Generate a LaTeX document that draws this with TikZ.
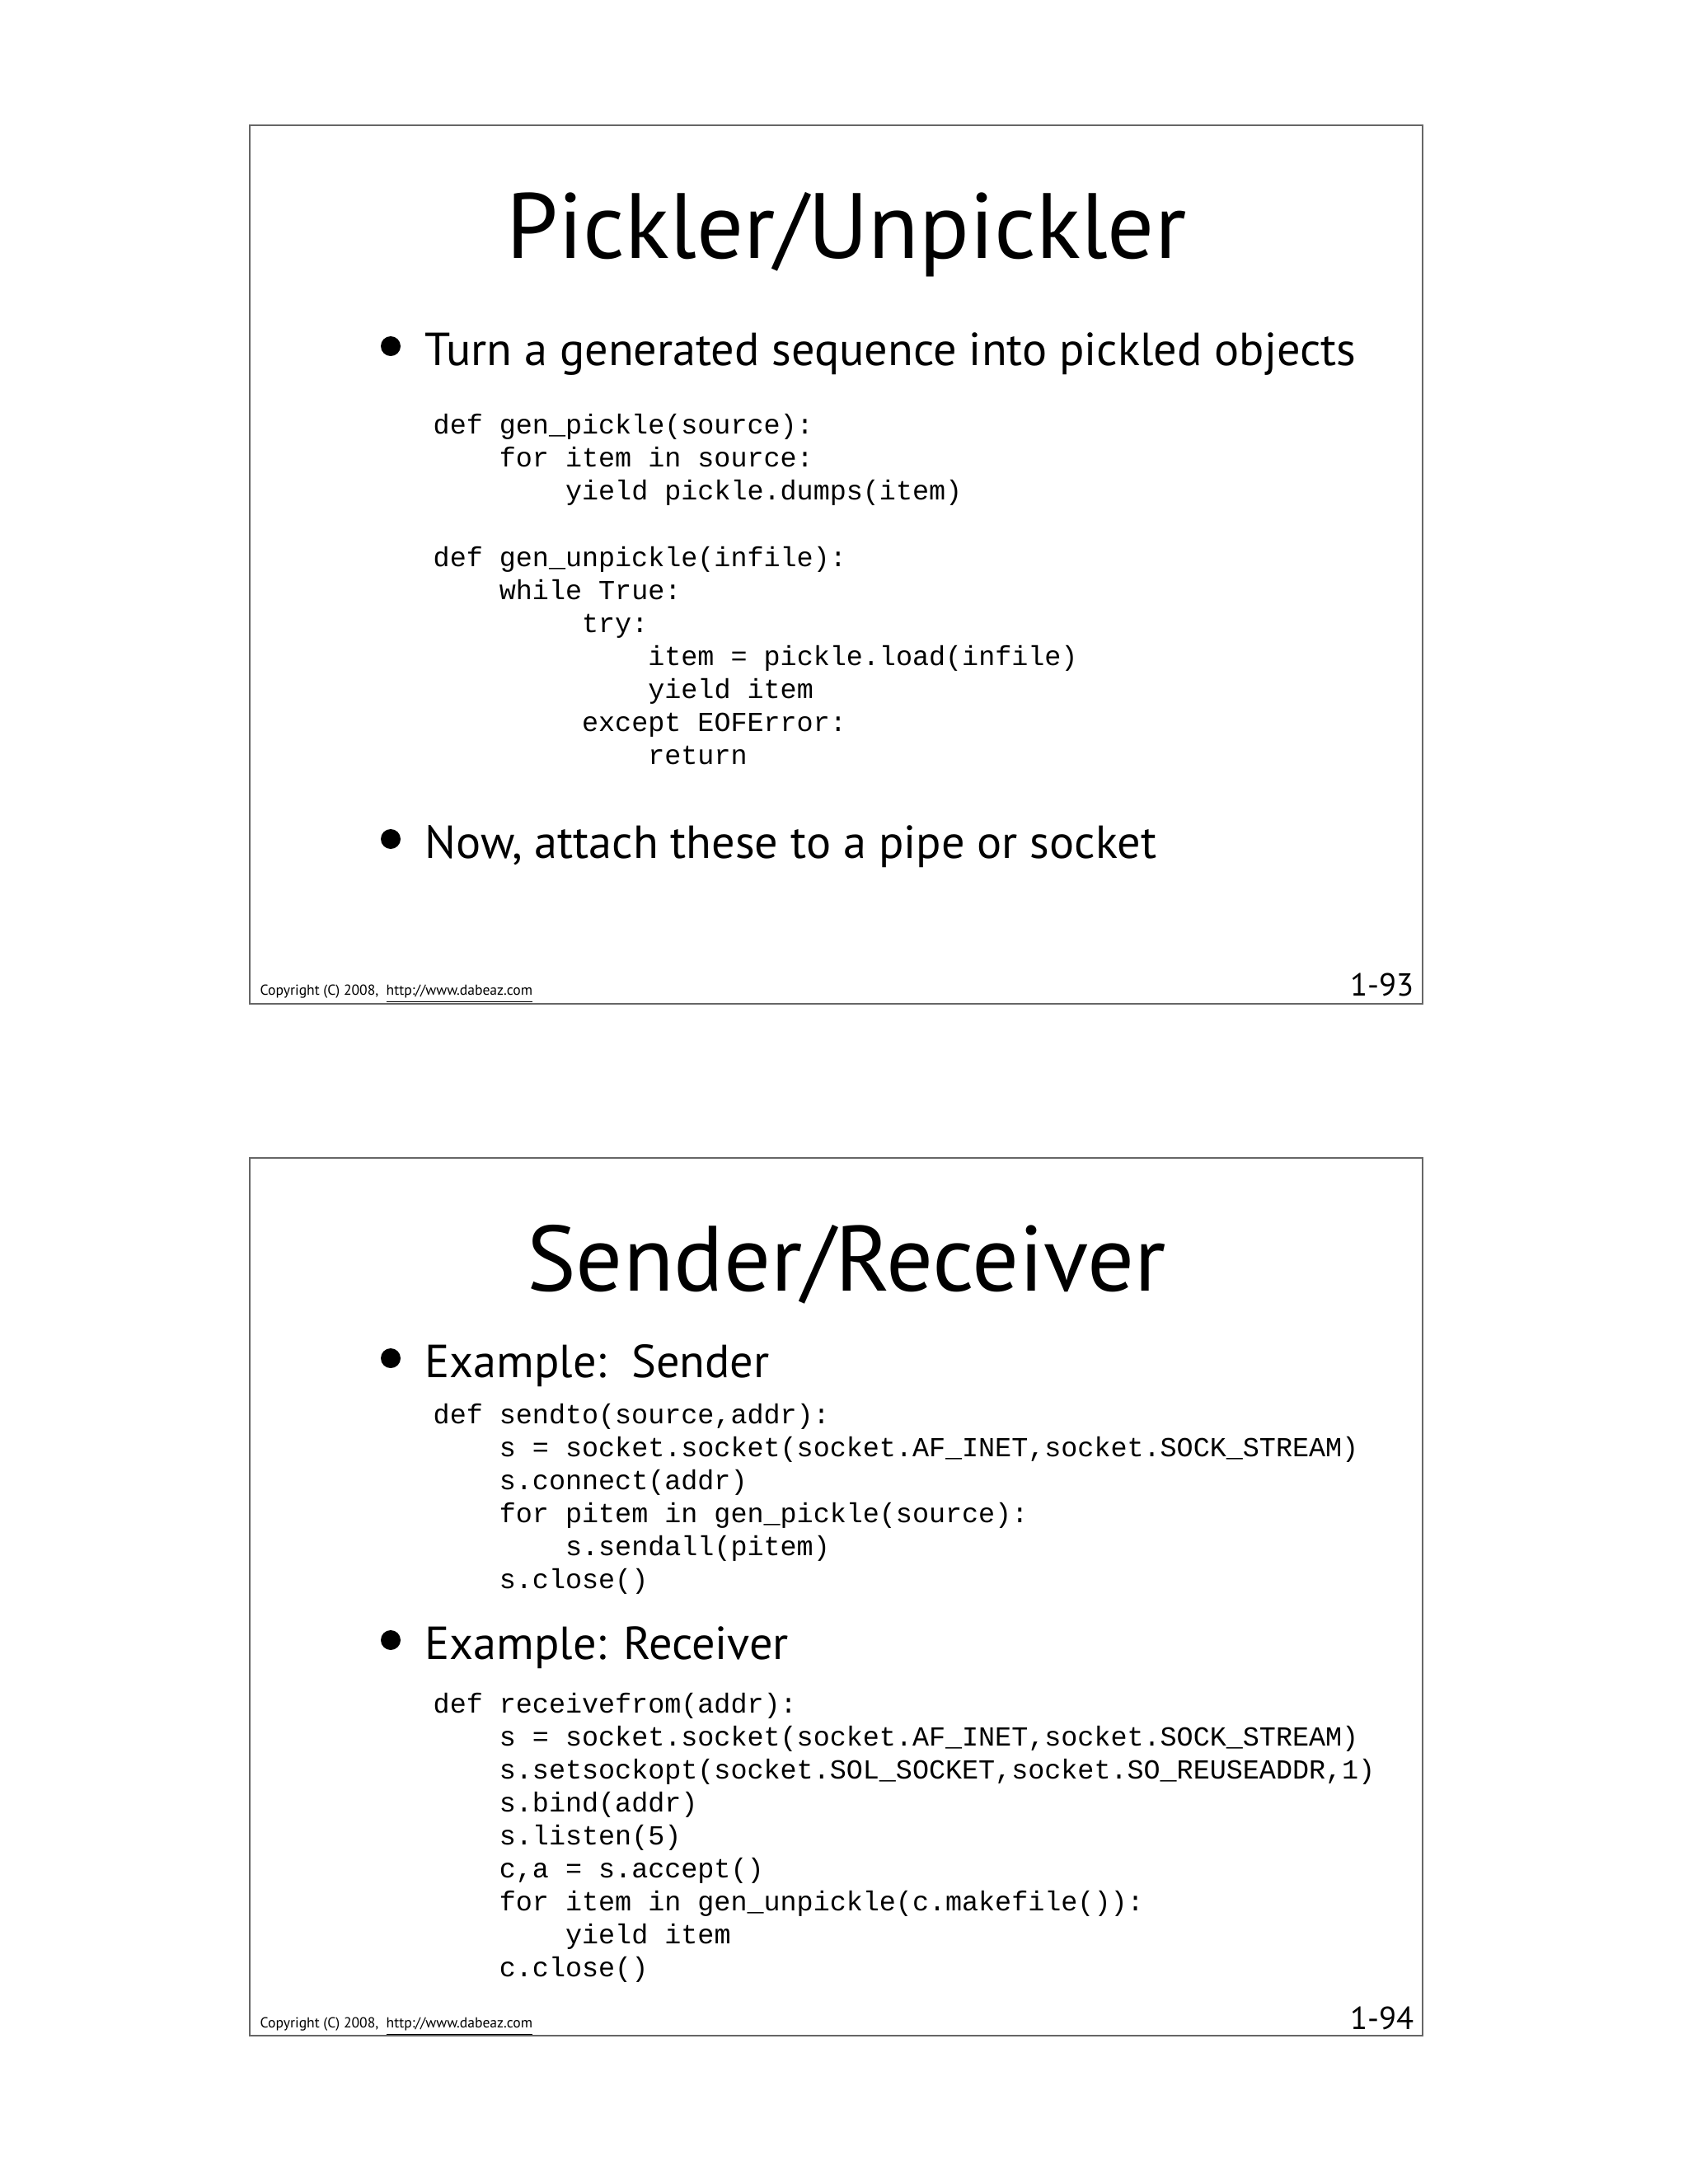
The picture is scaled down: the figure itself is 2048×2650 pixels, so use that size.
\documentclass[tikz,border=0pt]{standalone}
\usepackage{fontspec}
\setmainfont{PT Sans}
\setmonofont{Liberation Mono}
\begin{document}
\begin{tikzpicture}[x=0.01cm,y=-0.01cm,
  title/.style={anchor=base,font=\fontsize{32}{38}\selectfont,inner sep=0},
  bul/.style={anchor=base west,font=\fontsize{16}{19}\selectfont,inner sep=0},
  code/.style={anchor=base west,font=\ttfamily\fontsize{9.5}{11}\selectfont,inner sep=0},
  foot/.style={anchor=base west,font=\fontsize{5}{6}\selectfont,inner sep=0},
  num/.style={anchor=base east,font=\fontsize{11}{13}\selectfont,inner sep=0},
  frame/.style={draw=black!60,line width=0.6pt}]
\useasboundingbox (0,0) rectangle (2048,2650);
\newcommand{\cl}[4]{\node[code] (#1) at ({525+#3*20.05},#2) {#4};}
% slide 1
\draw[frame] (303,152) rectangle (1726,1218);
\node[title] (t1) at (1027,313) {Pickler/Unpickler};
\fill (474,420) circle (12);
\node[bul] (b1) at (515,443) {Turn a generated sequence into pickled objects};
\cl{a1}{526}{0}{def gen\_pickle(source):}
\cl{a2}{566}{4}{for item in source:}
\cl{a3}{606}{8}{yield pickle.dumps(item)}
\cl{a4}{687}{0}{def gen\_unpickle(infile):}
\cl{a5}{727}{4}{while True:}
\cl{a6}{767}{9}{try:}
\cl{a7}{807}{13}{item = pickle.load(infile)}
\cl{a8}{847}{13}{yield item}
\cl{a9}{887}{9}{except EOFError:}
\cl{a10}{927}{13}{return}
\fill (474,1018) circle (12);
\node[bul] (b2) at (515,1041) {Now, attach these to a pipe or socket};
\node[foot] (f1) at (315,1207) {Copyright (C) 2008,\ \ \underline{http://www.dabeaz.com}};
\node[num] (n1) at (1716,1208) {1-93};
% slide 2
\draw[frame] (303,1405) rectangle (1726,2470);
\node[title] (t2) at (1027,1566) {Sender/Receiver};
\fill (474,1648) circle (12);
\node[bul] (b3) at (515,1671) {Example:\ \ Sender};
\cl{c1}{1727}{0}{def sendto(source,addr):}
\cl{c2}{1767}{4}{s = socket.socket(socket.AF\_INET,socket.SOCK\_STREAM)}
\cl{c3}{1807}{4}{s.connect(addr)}
\cl{c4}{1847}{4}{for pitem in gen\_pickle(source):}
\cl{c5}{1887}{8}{s.sendall(pitem)}
\cl{c6}{1927}{4}{s.close()}
\fill (474,1990) circle (12);
\node[bul] (b4) at (515,2013) {Example: Receiver};
\cl{e1}{2078}{0}{def receivefrom(addr):}
\cl{e2}{2118}{4}{s = socket.socket(socket.AF\_INET,socket.SOCK\_STREAM)}
\cl{e3}{2158}{4}{s.setsockopt(socket.SOL\_SOCKET,socket.SO\_REUSEADDR,1)}
\cl{e4}{2198}{4}{s.bind(addr)}
\cl{e5}{2238}{4}{s.listen(5)}
\cl{e6}{2278}{4}{c,a = s.accept()}
\cl{e7}{2318}{4}{for item in gen\_unpickle(c.makefile()):}
\cl{e8}{2358}{8}{yield item}
\cl{e9}{2398}{4}{c.close()}
\node[foot] (f2) at (315,2460) {Copyright (C) 2008,\ \ \underline{http://www.dabeaz.com}};
\node[num] (n2) at (1716,2462) {1-94};
\end{tikzpicture}
\end{document}
